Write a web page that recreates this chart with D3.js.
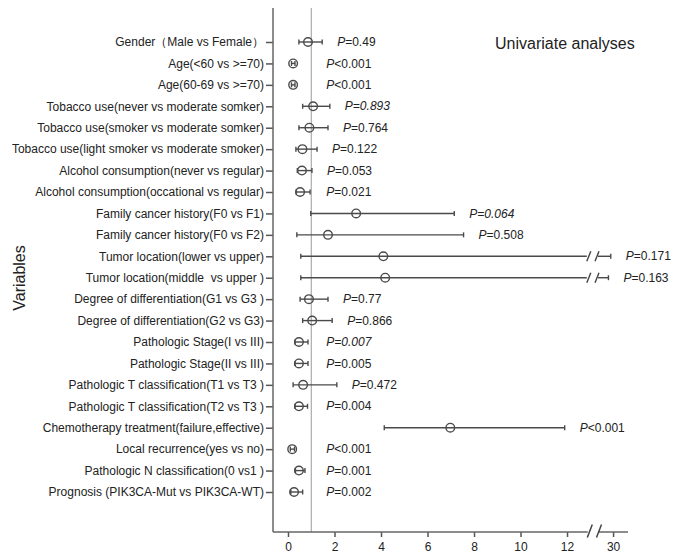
<!DOCTYPE html>
<html>
<head>
<meta charset="utf-8">
<script src="https://cdn.jsdelivr.net/npm/d3@7"></script>
<style>
  body { margin: 0; background: #fff; }
  svg text { font-family: "Liberation Sans", Arial, sans-serif; fill: #222; }
</style>
</head>
<body>
<div class="chartContainer"></div>
<script>
// Data
const variables = [
  "Gender（Male vs Female）",
  "Age(<60 vs >=70)",
  "Age(60-69 vs >=70)",
  "Tobacco use(never vs moderate somker)",
  "Tobacco use(smoker vs moderate somker)",
  "Tobacco use(light smoker vs moderate smoker)",
  "Alcohol consumption(never vs regular)",
  "Alcohol consumption(occational vs regular)",
  "Family cancer history(F0 vs F1)",
  "Family cancer history(F0 vs F2)",
  "Tumor location(lower vs upper)",
  "Tumor location(middle  vs upper )",
  "Degree of differentiation(G1 vs G3 )",
  "Degree of differentiation(G2 vs G3)",
  "Pathologic Stage(I vs III)",
  "Pathologic Stage(II vs III)",
  "Pathologic T classification(T1 vs T3 )",
  "Pathologic T classification(T2 vs T3 )",
  "Chemotherapy treatment(failure,effective)",
  "Local recurrence(yes vs no)",
  "Pathologic N classification(0 vs1 )",
  "Prognosis (PIK3CA-Mut vs PIK3CA-WT)"
];
const oddsRatio = [0.86, 0.22, 0.22, 1.08, 0.92, 0.62, 0.6, 0.52, 2.93, 1.72, 4.1, 4.18,
  0.9, 1.04, 0.47, 0.47, 0.65, 0.47, 6.98, 0.18, 0.47, 0.26];
const ciLower = [0.47, 0.15, 0.15, 0.63, 0.47, 0.34, 0.4, 0.35, 0.98, 0.38, 0.55, 0.55,
  0.52, 0.63, 0.3, 0.3, 0.22, 0.3, 4.14, 0.1, 0.32, 0.12];
const ciUpper = [1.47, 0.3, 0.3, 1.8, 1.72, 1.25, 1.03, 0.95, 7.15, 7.55, 29.9, 29.8,
  1.72, 1.9, 0.86, 0.86, 2.1, 0.84, 11.9, 0.28, 0.73, 0.63];
const pValues = ["=0.49", "<0.001", "<0.001", "=0.893", "=0.764", "=0.122", "=0.053", "=0.021",
  "=0.064", "=0.508", "=0.171", "=0.163", "=0.77", "=0.866", "=0.007", "=0.005",
  "=0.472", "=0.004", "<0.001", "<0.001", "=0.001", "=0.002"];
const xTicks = [0, 2, 4, 6, 8, 10, 12, 30];

// Layout
const W = 675;
const H = 558;
const AXIS_X = 273;
const AXIS_TOP = 8;
const AXIS_Y = 532;
const BREAK_LO = 12.85;
const BREAK_HI = 29.35;
const LINE_COLOR = "#4a4a4a";

const svg = d3.select(".chartContainer")
  .append("svg")
  .attr("width", W)
  .attr("height", H);

// piecewise scale with an axis break between 12.85 and 29.35
const x = d3.scaleLinear()
  .domain([0, BREAK_LO, BREAK_HI, 30.6])
  .range([288, 586.8, 598, 627]);

const y = d3.scalePoint()
  .domain(variables)
  .range([42, 492]);

const rows = variables.map((v, i) => ({
  name: v, or: oddsRatio[i], lo: ciLower[i], hi: ciUpper[i], p: pValues[i]
}));

// reference line at OR = 1
svg.append("line")
  .attr("x1", x(1)).attr("x2", x(1))
  .attr("y1", AXIS_TOP).attr("y2", AXIS_Y)
  .attr("stroke", "#9a9a9a")
  .attr("stroke-width", 1);

// Left axis
const yAxis = svg.append("g")
  .attr("transform", "translate(" + AXIS_X + ",0)")
  .call(d3.axisLeft(y).tickSize(7).tickPadding(2));
yAxis.select(".domain").remove();
yAxis.selectAll(".tick line").attr("stroke", "#555").attr("stroke-width", 1.5);
yAxis.selectAll(".tick text")
  .attr("fill", "#222")
  .style("font-size", "12px")
  .style("white-space", "pre");

svg.append("line")
  .attr("x1", AXIS_X).attr("x2", AXIS_X)
  .attr("y1", AXIS_TOP).attr("y2", AXIS_Y)
  .attr("stroke", "#666")
  .attr("stroke-width", 1.5);

// Bottom axis
const xAxis = svg.append("g")
  .attr("transform", "translate(0," + AXIS_Y + ")")
  .call(d3.axisBottom(x).tickValues(xTicks).tickSize(5).tickPadding(5));
xAxis.select(".domain").remove();
xAxis.selectAll(".tick line").attr("stroke", "#555").attr("stroke-width", 1.5);
xAxis.selectAll(".tick text").attr("fill", "#222").style("font-size", "12px");

svg.append("line")
  .attr("x1", AXIS_X).attr("x2", x(BREAK_LO) + 1)
  .attr("y1", AXIS_Y).attr("y2", AXIS_Y)
  .attr("stroke", "#666").attr("stroke-width", 1.5);
svg.append("line")
  .attr("x1", x(BREAK_HI)).attr("x2", 628)
  .attr("y1", AXIS_Y).attr("y2", AXIS_Y)
  .attr("stroke", "#666").attr("stroke-width", 1.5);

function slash(cx, cy, h) {
  svg.append("line")
    .attr("x1", cx - 2.5).attr("y1", cy + h / 2)
    .attr("x2", cx + 2.5).attr("y2", cy - h / 2)
    .attr("stroke", "#444").attr("stroke-width", 1.5);
}
slash(x(BREAK_LO) + 3, AXIS_Y - 1, 13);
slash(x(BREAK_HI) + 1, AXIS_Y - 1, 13);

// CI lines
const marks = svg.append("g").attr("class", "marks");

rows.forEach((d) => {
  const cy = y(d.name);
  const g = marks.append("g");
  if (d.hi > BREAK_LO) {
    g.append("line")
      .attr("x1", x(d.lo)).attr("x2", x(BREAK_LO))
      .attr("y1", cy).attr("y2", cy);
    g.append("line")
      .attr("x1", x(BREAK_HI)).attr("x2", x(d.hi))
      .attr("y1", cy).attr("y2", cy);
  } else {
    g.append("line")
      .attr("x1", x(d.lo)).attr("x2", x(d.hi))
      .attr("y1", cy).attr("y2", cy);
  }
  [d.lo, d.hi].forEach((v) => {
    g.append("line")
      .attr("x1", x(v)).attr("x2", x(v))
      .attr("y1", cy - 2.5).attr("y2", cy + 2.5);
  });
  g.selectAll("line").attr("stroke", LINE_COLOR).attr("stroke-width", 1.4);
  if (d.hi > BREAK_LO) {
    [x(BREAK_LO) + 2, x(BREAK_HI) - 1].forEach((bx) => {
      g.append("line")
        .attr("x1", bx - 2).attr("y1", cy + 5)
        .attr("x2", bx + 2).attr("y2", cy - 5)
        .attr("stroke", "#444").attr("stroke-width", 1.4);
    });
  }
  g.append("circle")
    .attr("cx", x(d.or))
    .attr("cy", cy)
    .attr("r", 4.3)
    .attr("fill", "none")
    .attr("stroke", LINE_COLOR)
    .attr("stroke-width", 1.4);
});

// P value labels
const italicRows = new Set([3, 8, 14]);
const pText = svg.append("g")
  .selectAll("text")
  .data(rows)
  .enter()
  .append("text")
  .attr("x", (d) => Math.max(x(d.hi) + 15, x(1) + 15))
  .attr("y", (d) => y(d.name))
  .attr("dy", "0.35em")
  .style("font-size", "12px");
pText.append("tspan").style("font-style", "italic").text("P");
pText.append("tspan")
  .style("font-style", (d, i) => (italicRows.has(i) ? "italic" : "normal"))
  .text((d) => d.p);

// Titles
svg.append("text")
  .attr("x", 495)
  .attr("y", 49)
  .style("font-size", "16px")
  .text("Univariate analyses");

svg.append("text")
  .attr("transform", "translate(25,278) rotate(-90)")
  .attr("text-anchor", "middle")
  .style("font-size", "16px")
  .text("Variables");
</script>
</body>
</html>
